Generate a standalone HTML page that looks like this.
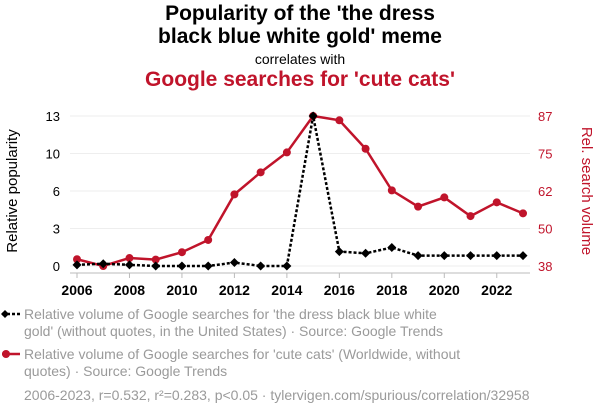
<!DOCTYPE html>
<html><head><meta charset="utf-8"><style>
body{margin:0;background:#fff;font-family:"Liberation Sans",sans-serif;}
#wrap{position:relative;width:600px;height:414px;overflow:hidden;}
.t{position:absolute;left:0;width:600px;text-align:center;}
</style></head><body>
<div id="wrap">
<div class="t" style="top:2px;font-size:21px;font-weight:bold;line-height:23px;color:#000">Popularity of the 'the dress<br>black blue white gold' meme</div>
<div class="t" style="top:51px;font-size:14px;color:#000">correlates with</div>
<div class="t" style="top:68px;font-size:21px;font-weight:bold;color:#c0142b">Google searches for 'cute cats'</div>
<svg id="svg" width="600" height="414" style="position:absolute;left:0;top:0"></svg>
</div>
<script>
const years=[2006,2007,2008,2009,2010,2011,2012,2013,2014,2015,2016,2017,2018,2019,2020,2021,2022,2023];
const memeVals=[0.1,0.2,0.1,0,0,0,0.3,0,0,13,1.25,1.1,1.6,0.9,0.9,0.9,0.9,0.9];
const catVals=[40.2,38,40.6,40.1,42.5,46.5,61.4,68.6,75.1,87,85.6,76.3,62.7,57.4,60.4,54.3,58.8,55.2];
const leftTicks=[0,3.25,6.5,9.75,13];
const leftLabels=['0','3','6','10','13'];
const rightTicks=[38,50.25,62.5,74.75,87];
const rightLabels=['38','50','62','75','87'];
const xTicks=[2006,2008,2010,2012,2014,2016,2018,2020,2022];
const NS="http://www.w3.org/2000/svg",svg=document.getElementById('svg');
const x=v=>77+(v-2006)*(523-77)/17;
const yl=v=>266-v*150/13;
const yr=v=>266-(v-38)*150/49;
function mk(t,a,p){const e=document.createElementNS(NS,t);for(const k in a)e.setAttribute(k,a[k]);(p||svg).appendChild(e);return e;}
leftTicks.forEach((v,i)=>{
 const g=mk('line',{x1:70,x2:530,y1:yl(v),y2:yl(v),stroke:'#eee','stroke-width':1});
 
 
 const t=mk('text',{x:60,y:yl(v)+5,'text-anchor':'end','font-size':13,fill:'#000'});t.textContent=leftLabels[i];
 
 
 const r=mk('text',{x:538,y:yr(rightTicks[i])+5,'font-size':13,fill:'#c0142b'});r.textContent=rightLabels[i];
 
 
});
const ax=mk('line',{x1:70,x2:530,y1:273,y2:273,stroke:'#bbb'});


xTicks.forEach(v=>{
 mk('line',{x1:x(v),x2:x(v),y1:273,y2:278,stroke:'#bbb'});
 const t=mk('text',{x:x(v),y:295,'text-anchor':'middle','font-size':14,'font-weight':'bold',fill:'#000'});t.textContent=v;
 
 
});
const lt=mk('text',{transform:'translate(17,191) rotate(-90)','text-anchor':'middle','font-size':15,fill:'#000'});lt.textContent='Relative popularity';


const rt=mk('text',{transform:'translate(582,191) rotate(90)','text-anchor':'middle','font-size':15,fill:'#c0142b'});rt.textContent='Rel. search volume';


const rl=mk('polyline',{points:years.map((y,i)=>x(y)+','+yr(catVals[i])).join(' '),fill:'none',stroke:'#c0142b','stroke-width':2.5});


years.forEach((y,i)=>{const c=mk('circle',{cx:x(y),cy:yr(catVals[i]),r:4,fill:'#c0142b'});
 
 });
const bl=mk('polyline',{points:years.map((y,i)=>x(y)+','+yl(memeVals[i])).join(' '),fill:'none',stroke:'#000','stroke-width':2.5,'stroke-dasharray':'3,2'});


years.forEach((y,i)=>{const cx=x(y),cy=yl(memeVals[i]);const d=mk('polygon',{points:`${cx},${cy-4.5} ${cx+4.5},${cy} ${cx},${cy+4.5} ${cx-4.5},${cy}`,fill:'#000'});
 
 });
const lg1=mk('g',{});
mk('line',{x1:2,x2:20,y1:314,y2:314,stroke:'#000','stroke-width':2.5,'stroke-dasharray':'3,2'},lg1);
mk('polygon',{points:'5,310 9,314 5,318 1,314',fill:'#000'},lg1);
[['Relative volume of Google searches for \'the dress black blue white',319],['gold\' (without quotes, in the United States) · Source: Google Trends',336]].forEach(([s,y])=>{const t=mk('text',{x:24,y:y,'font-size':14,fill:'#9a9a9a'},lg1);t.textContent=s;});
const lg2=mk('g',{});
mk('line',{x1:2,x2:20,y1:354,y2:354,stroke:'#c0142b','stroke-width':2.5},lg2);
mk('circle',{cx:6,cy:354,r:4,fill:'#c0142b'},lg2);
[['Relative volume of Google searches for \'cute cats\' (Worldwide, without',359],['quotes) · Source: Google Trends',376]].forEach(([s,y])=>{const t=mk('text',{x:24,y:y,'font-size':14,fill:'#9a9a9a'},lg2);t.textContent=s;});
const ft=mk('text',{x:24,y:400,'font-size':14,fill:'#9a9a9a'});ft.textContent='2006-2023, r=0.532, r²=0.283, p<0.05 · tylervigen.com/spurious/correlation/32958';


</script>
</body></html>
